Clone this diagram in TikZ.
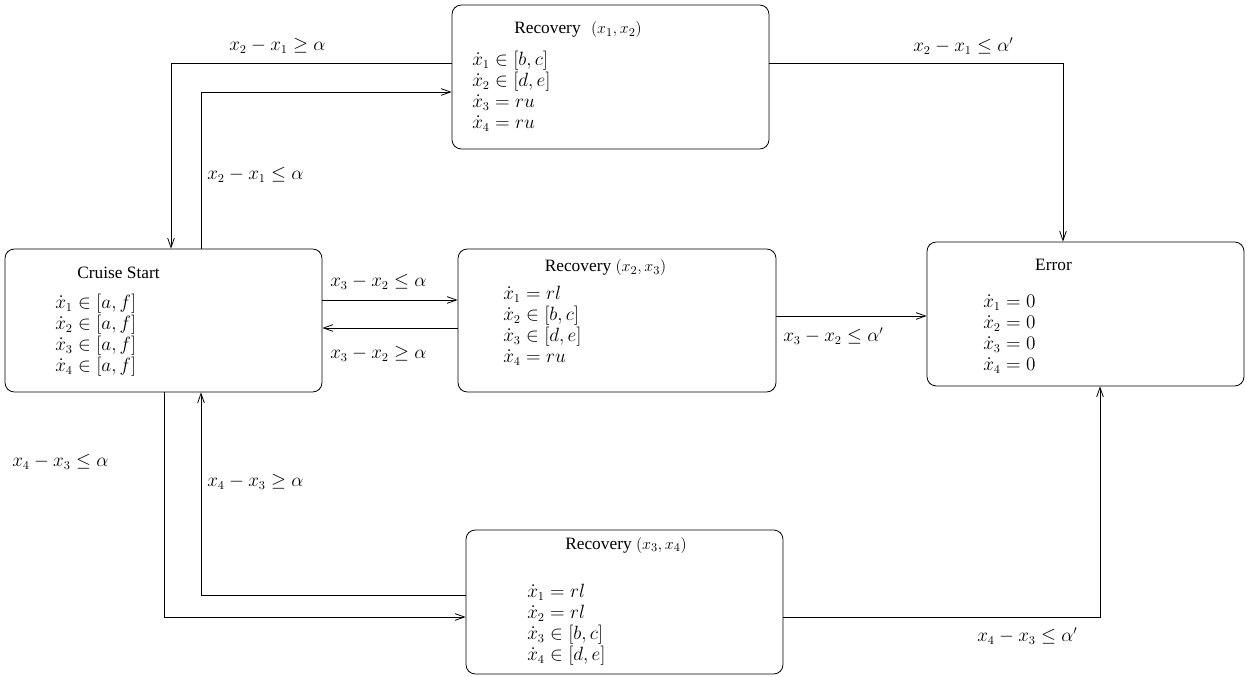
\documentclass[tikz,border=0pt]{standalone}
\usepackage{fontspec}
\setmainfont{Liberation Serif}
\usetikzlibrary{arrows.meta}
\begin{document}
\begin{tikzpicture}[x=0.75pt,y=-0.75pt,
  box/.style={draw,rounded corners=7pt,line width=0.6pt,inner sep=0pt},
  arr/.style={line width=0.6pt,-{Straight Barb[length=7pt,width=5pt]}},
  txt/.style={inner sep=0pt,anchor=west,align=left,font=\fontsize{13.5}{15.75}\selectfont},
  ttl/.style={inner sep=0pt,font=\fontsize{13}{15}\selectfont},
  lbl/.style={inner sep=0pt,anchor=west,font=\fontsize{13.5}{15.75}\selectfont}]
\useasboundingbox (0,0) rectangle (1247,677);
% boxes
\node[box,minimum width=317*0.75pt,minimum height=144*0.75pt] (top) at (610.5,77) {};
\node[box,minimum width=317*0.75pt,minimum height=143*0.75pt] (cruise) at (163.5,320.5) {};
\node[box,minimum width=318*0.75pt,minimum height=143*0.75pt] (mid) at (617,320.5) {};
\node[box,minimum width=317*0.75pt,minimum height=144*0.75pt] (err) at (1085.5,314) {};
\node[box,minimum width=317*0.75pt,minimum height=144*0.75pt] (bot) at (624.5,602) {};
% titles
\node[ttl] (ttop) at (578,30) {Recovery\hspace{0.6em}$(x_1,x_2)$};
\node[ttl] (tcruise) at (118.5,273) {Cruise Start};
\node[ttl] (tmid) at (605.5,268) {Recovery $(x_2,x_3)$};
\node[ttl] (terr) at (1053.5,265) {Error};
\node[ttl] (tbot) at (626,545) {Recovery $(x_3,x_4)$};
% bodies
\node[txt] (btop) at (472,91) {$\dot x_1\in[b,c]$\\$\dot x_2\in[d,e]$\\$\dot x_3=ru$\\$\dot x_4=ru$};
\node[txt] (bcruise) at (55,335.5) {$\dot x_1\in[a,f]$\\$\dot x_2\in[a,f]$\\$\dot x_3\in[a,f]$\\$\dot x_4\in[a,f]$};
\node[txt] (bmid) at (503,326) {$\dot x_1=rl$\\$\dot x_2\in[b,c]$\\$\dot x_3\in[d,e]$\\$\dot x_4=ru$};
\node[txt] (berr) at (983,334.5) {$\dot x_1=0$\\$\dot x_2=0$\\$\dot x_3=0$\\$\dot x_4=0$};
\node[txt] (bbot) at (527,624.5) {$\dot x_1=rl$\\$\dot x_2=rl$\\$\dot x_3\in[b,c]$\\$\dot x_4\in[d,e]$};
% connectors
\draw[arr] (top.west |- 0,63) -| (cruise.north -| 171,0);
\draw[arr] (cruise.north -| 201,0) |- (top.west |- 0,92);
\draw[arr] (top.east |- 0,63) -| (err.north -| 1063,0);
\draw[arr] (cruise.east |- 0,300) -- (mid.west |- 0,300);
\draw[arr] (mid.west |- 0,328) -- (cruise.east |- 0,328);
\draw[arr] (mid.east |- 0,316) -- (err.west |- 0,316);
\draw[arr] (cruise.south -| 164,0) |- (bot.west |- 0,617);
\draw[arr] (bot.west |- 0,595) -| (cruise.south -| 201,0);
\draw[arr] (bot.east |- 0,617) -| (err.south -| 1100,0);
% labels
\node[lbl] (l1) at (229,46) {$x_2-x_1\geq\alpha$};
\node[lbl] (l2) at (207,175) {$x_2-x_1\leq\alpha$};
\node[lbl] (l3) at (913,46) {$x_2-x_1\leq\alpha'$};
\node[lbl] (l4) at (330,282) {$x_3-x_2\leq\alpha$};
\node[lbl] (l5) at (330,354) {$x_3-x_2\geq\alpha$};
\node[lbl] (l6) at (783,336) {$x_3-x_2\leq\alpha'$};
\node[lbl] (l7) at (12,462) {$x_4-x_3\leq\alpha$};
\node[lbl] (l8) at (207,482) {$x_4-x_3\geq\alpha$};
\node[lbl] (l9) at (977,636) {$x_4-x_3\leq\alpha'$};
\end{tikzpicture}
\end{document}
